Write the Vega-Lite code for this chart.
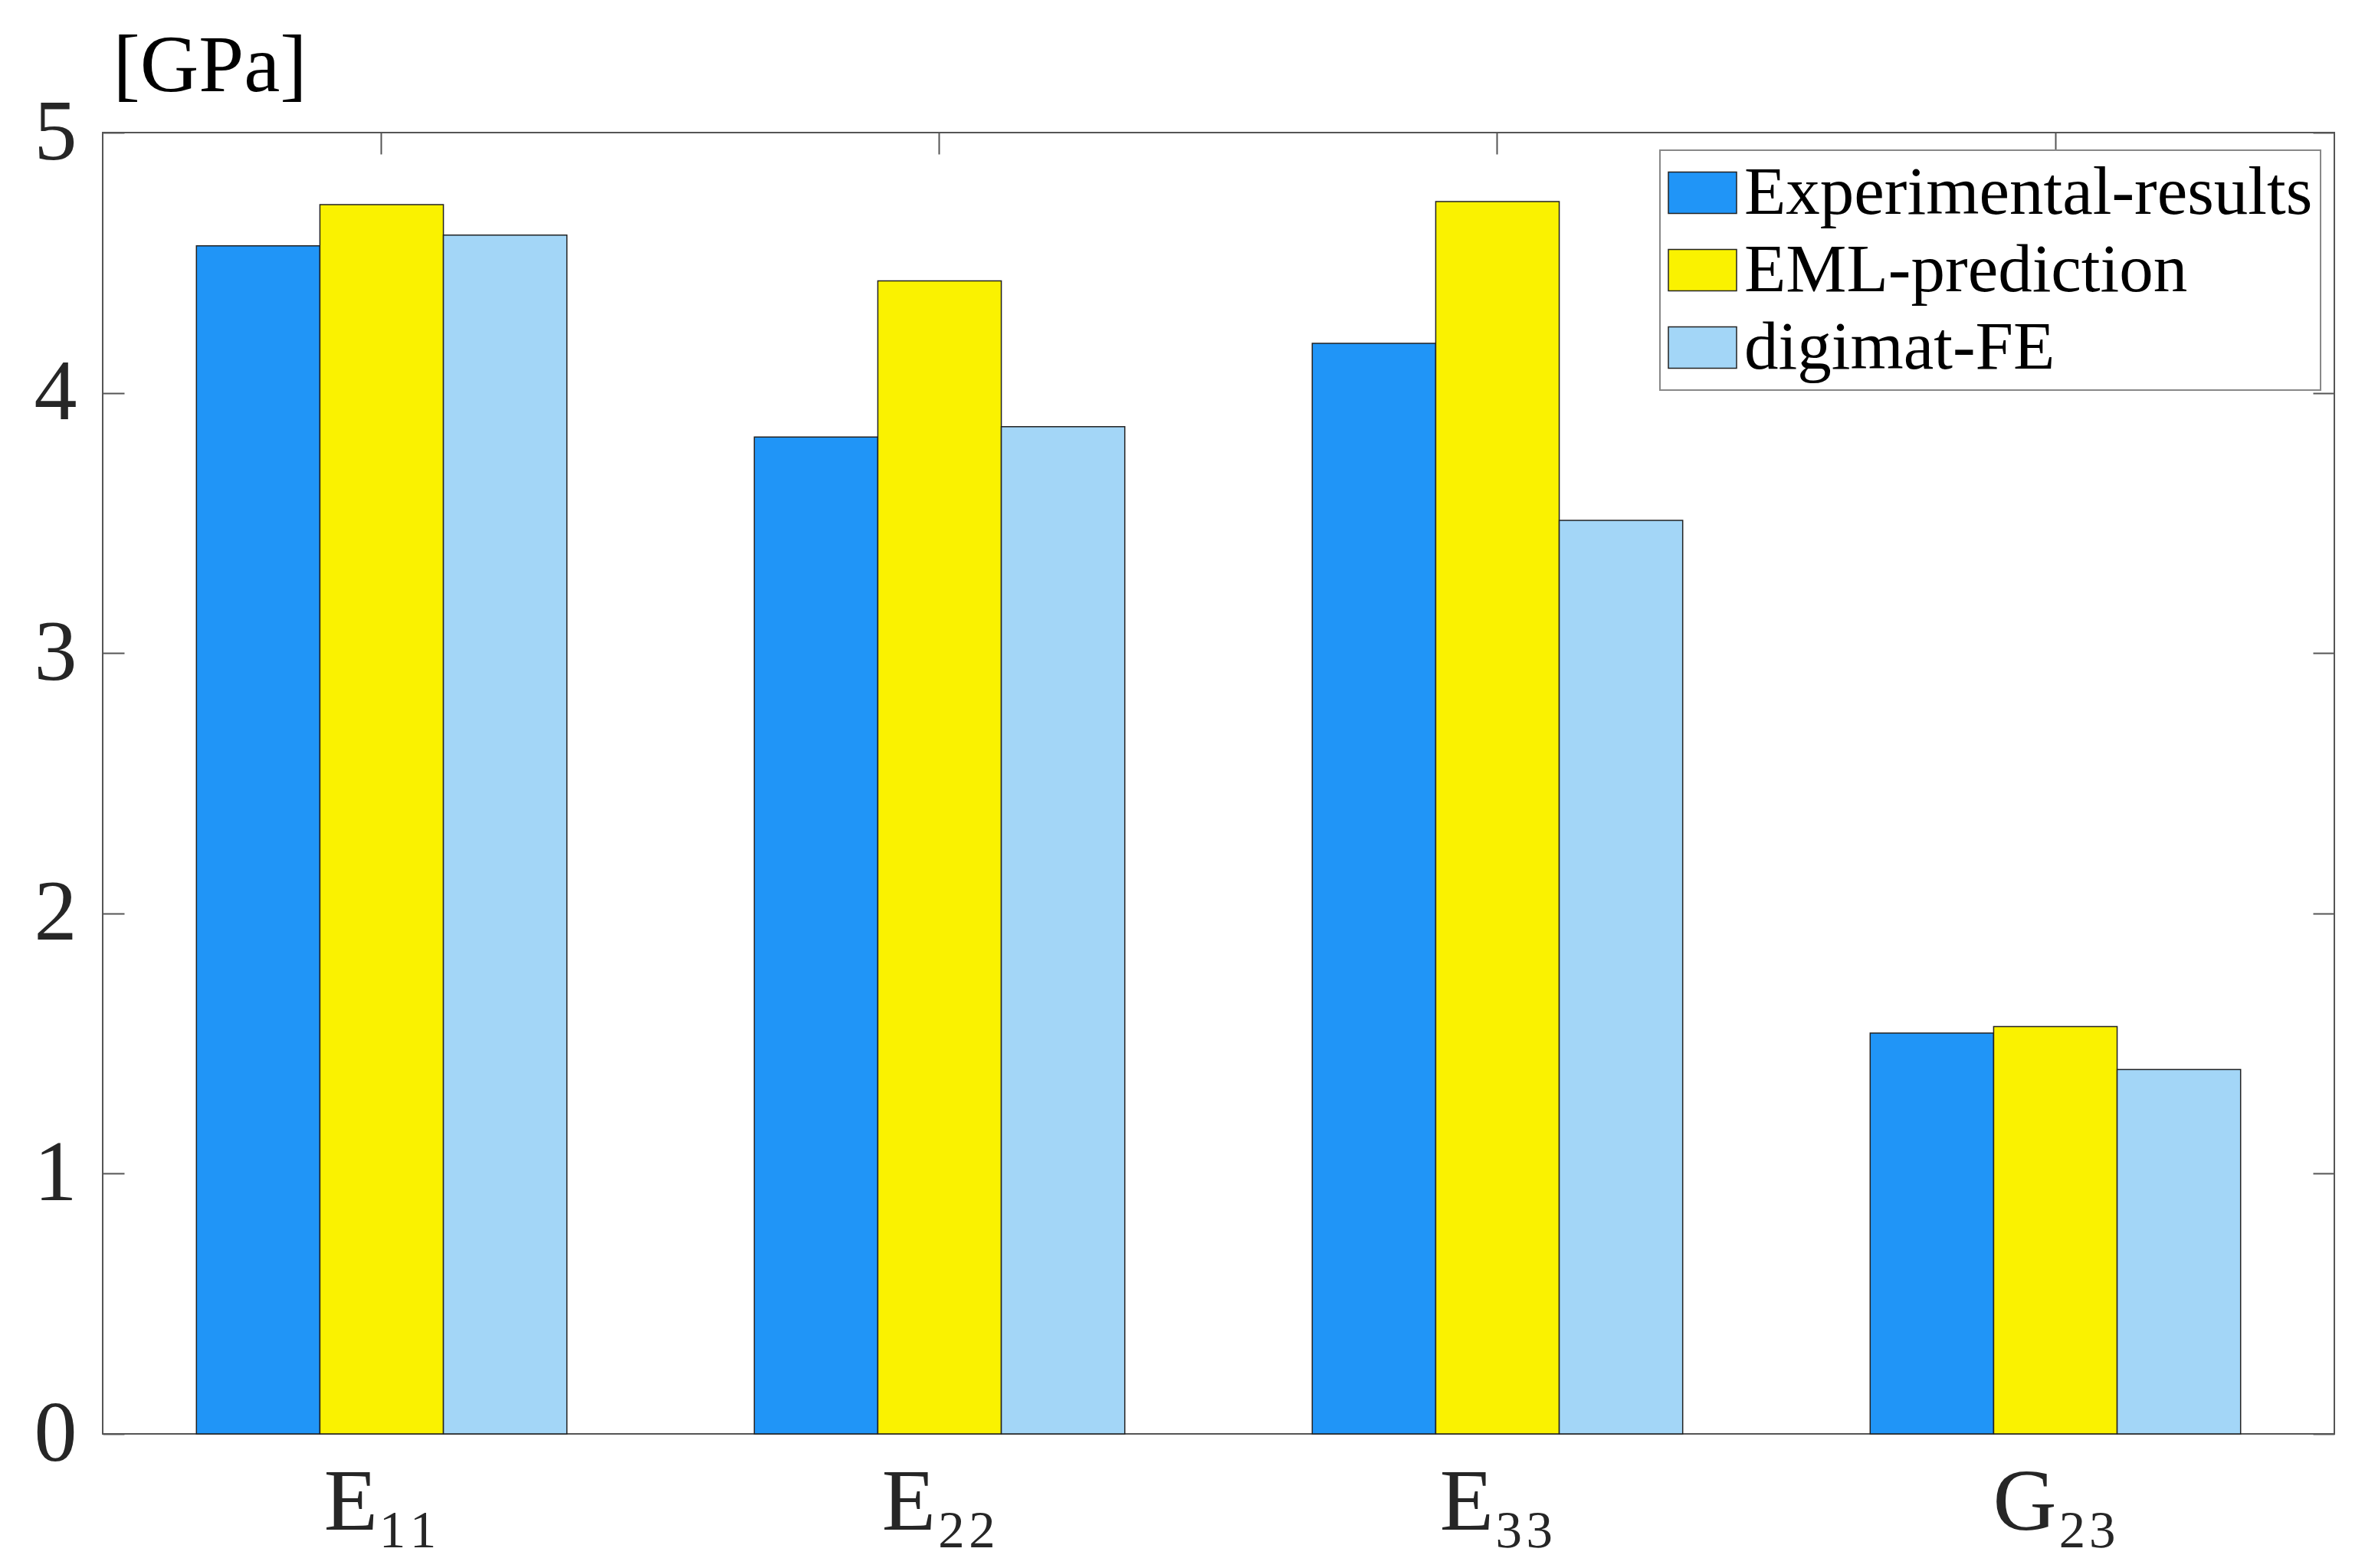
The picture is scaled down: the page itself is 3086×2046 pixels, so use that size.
{
  "$schema": "https://vega.github.io/schema/vega-lite/v6.json",
  "autosize": "none",
  "padding": {"left": 134, "top": 173, "right": 40, "bottom": 175},
  "width": 2912,
  "height": 1698,
  "background": "white",
  "config": {
    "view": {"stroke": "#555555", "strokeWidth": 2},
    "font": "Liberation Serif",
    "legend": {"strokeWidth": 2}
  },
  "data": {
    "values": [
      {"param": "E₁₁", "series": "Experimental-results", "value": 4.565},
      {"param": "E₁₁", "series": "EML-prediction", "value": 4.723},
      {"param": "E₁₁", "series": "digimat-FE", "value": 4.606},
      {"param": "E₂₂", "series": "Experimental-results", "value": 3.83},
      {"param": "E₂₂", "series": "EML-prediction", "value": 4.43},
      {"param": "E₂₂", "series": "digimat-FE", "value": 3.87},
      {"param": "E₃₃", "series": "Experimental-results", "value": 4.19},
      {"param": "E₃₃", "series": "EML-prediction", "value": 4.735},
      {"param": "E₃₃", "series": "digimat-FE", "value": 3.51},
      {"param": "G₂₃", "series": "Experimental-results", "value": 1.54},
      {"param": "G₂₃", "series": "EML-prediction", "value": 1.565},
      {"param": "G₂₃", "series": "digimat-FE", "value": 1.40}
    ]
  },
  "resolve": {"axis": {"x": "independent", "y": "independent"}},
  "layer": [
    {
      "mark": {"type": "bar", "stroke": "#222222", "strokeWidth": 1.5},
      "encoding": {
        "x": {
          "field": "param", "type": "nominal",
          "scale": {"domain": ["E₁₁", "E₂₂", "E₃₃", "G₂₃"], "paddingInner": 0.336, "paddingOuter": 0.168},
          "axis": {
            "orient": "bottom", "title": null, "labelAngle": 0,
            "labelFontSize": 115, "labelFont": "Liberation Serif", "labelColor": "#262626",
            "labelBaseline": "top", "labelPadding": 61,
            "tickSize": -28, "tickColor": "#555555", "tickWidth": 2, "domain": false, "grid": false
          }
        },
        "xOffset": {
          "field": "series", "type": "nominal",
          "scale": {"domain": ["Experimental-results", "EML-prediction", "digimat-FE"], "paddingInner": 0, "paddingOuter": 0}
        },
        "y": {
          "field": "value", "type": "quantitative",
          "scale": {"domain": [0, 5], "nice": false},
          "axis": {
            "orient": "left", "values": [0, 1, 2, 3, 4, 5], "grid": false, "domain": false,
            "labelFontSize": 112, "labelFont": "Liberation Serif", "labelColor": "#262626", "labelPadding": 62,
            "tickSize": -28, "tickColor": "#555555", "tickWidth": 2,
            "title": "[GPa]", "titleAngle": 0, "titleAlign": "left", "titleBaseline": "alphabetic",
            "titleX": 13, "titleY": -55, "titleFontSize": 106, "titleFont": "Liberation Serif",
            "titleFontWeight": "normal", "titleColor": "#000000"
          }
        },
        "color": {
          "field": "series", "type": "nominal",
          "scale": {"domain": ["Experimental-results", "EML-prediction", "digimat-FE"], "range": ["#2095F7", "#FAF200", "#A3D6F7"]},
          "legend": {
            "orient": "none", "legendX": 2032, "legendY": 23, "title": null,
            "strokeColor": "#888888", "fillColor": "white", "padding": 10,
            "symbolType": "M-1,-0.607H1V0.607H-1Z", "symbolSize": 7921,
            "symbolStrokeColor": "#222222", "symbolStrokeWidth": 1.5, "symbolOpacity": 1,
            "labelFontSize": 89, "labelFont": "Liberation Serif", "labelColor": "#000000",
            "labelOffset": 9, "rowPadding": 10, "labelLimit": 2000
          }
        }
      }
    },
    {
      "mark": {"type": "bar", "opacity": 0},
      "encoding": {
        "x": {
          "field": "param", "type": "nominal",
          "axis": {"orient": "top", "labels": false, "title": null, "tickSize": -28, "tickColor": "#555555", "tickWidth": 2, "domain": false, "grid": false}
        },
        "y": {
          "field": "value", "type": "quantitative",
          "axis": {"orient": "right", "labels": false, "title": null, "values": [0, 1, 2, 3, 4, 5], "tickSize": -28, "tickColor": "#555555", "tickWidth": 2, "domain": false, "grid": false}
        }
      }
    }
  ]
}
